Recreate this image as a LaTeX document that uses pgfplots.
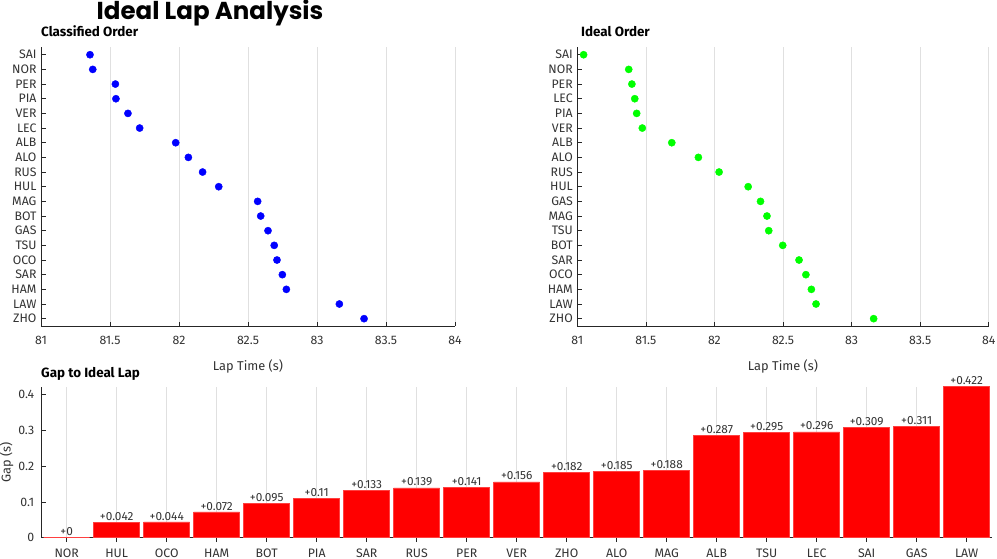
\documentclass[border=0pt]{standalone}
\usepackage{fontspec}
\setmainfont{Fira Sans}
\newfontfamily\titlefont{Poppins}
\usepackage{pgfplots}
\pgfplotsset{compat=1.18}
\usepackage{pgfplotstable}

\definecolor{axgray}{gray}{0.15}
\definecolor{txtgray}{gray}{0.2}
\definecolor{gridgray}{gray}{0.88}

\pgfplotstableread{
i t
1 81.355
2 81.375
3 81.539
4 81.543
5 81.630
6 81.715
7 81.976
8 82.068
9 82.171
10 82.288
11 82.570
12 82.592
13 82.645
14 82.690
15 82.710
16 82.749
17 82.778
18 83.162
19 83.341
}\classtable

\pgfplotstableread{
i t
1 81.046
2 81.375
3 81.398
4 81.419
5 81.433
6 81.474
7 81.689
8 81.883
9 82.034
10 82.246
11 82.336
12 82.383
13 82.396
14 82.498
15 82.617
16 82.667
17 82.707
18 82.741
19 83.161
}\idealtable

\pgfplotstableread{
x y lab
1 0 +0
2 0.042 +0.042
3 0.044 +0.044
4 0.072 +0.072
5 0.095 +0.095
6 0.11 +0.11
7 0.133 +0.133
8 0.139 +0.139
9 0.141 +0.141
10 0.156 +0.156
11 0.182 +0.182
12 0.185 +0.185
13 0.188 +0.188
14 0.287 +0.287
15 0.295 +0.295
16 0.296 +0.296
17 0.309 +0.309
18 0.311 +0.311
19 0.422 +0.422
}\gaptable

\pgfplotsset{
  myaxis/.style={
    scale only axis,
    axis x line*=bottom, axis y line*=left,
    axis line style={axgray, line width=0.6pt, -},
    tick style={axgray, line width=0.6pt},
    tick align=inside,
    major tick length=4.5pt,
    tick label style={font=\fontsize{12.3}{13}\selectfont, text=txtgray},
    label style={font=\fontsize{12.8}{14}\selectfont, text=txtgray},
    /pgf/number format/assume math mode=true,
    xmajorgrids, grid style={gridgray, line width=0.6pt},
  },
  scat/.style={
    myaxis,
    width=414pt, height=278.6pt,
    xmin=81, xmax=84,
    xtick={81,81.5,82,82.5,83,83.5,84},
    xticklabels={81,81.5,82,82.5,83,83.5,84},
    ymin=0.5, ymax=19.5, y dir=reverse,
    ytick={1,...,19},
    xlabel={Lap Time (s)},
    xticklabel style={yshift=-7pt},
    xlabel style={yshift=-8pt},
    yticklabel style={xshift=-1pt},
  },
}

\begin{document}
\begin{tikzpicture}
\useasboundingbox (0pt,0pt) rectangle (997pt,-559pt);

\node[anchor=base, inner sep=0, font=\titlefont\bfseries\fontsize{24.5}{26}\selectfont] at (210pt,-19.5pt) {Ideal Lap Analysis};
\node[anchor=base west, inner sep=0, font=\bfseries\fontsize{13.4}{15}\selectfont] at (41pt,-36.5pt) {Classified Order};
\node[anchor=base west, inner sep=0, font=\bfseries\fontsize{13.4}{15}\selectfont] at (581pt,-36.5pt) {Ideal Order};
\node[anchor=base west, inner sep=0, font=\bfseries\fontsize{13.4}{15}\selectfont] at (41pt,-377pt) {Gap to Ideal Lap};

\begin{axis}[scat, at={(41pt,-47.4pt)}, anchor=north west,
  yticklabels={SAI,NOR,PER,PIA,VER,LEC,ALB,ALO,RUS,HUL,MAG,BOT,GAS,TSU,OCO,SAR,HAM,LAW,ZHO}]
  \addplot[only marks, mark=*, mark size=3.6pt, color=blue] table[x=t, y=i] {\classtable};
\end{axis}

\begin{axis}[scat, at={(577.3pt,-47.4pt)}, anchor=north west, width=411.4pt,
  yticklabels={SAI,NOR,PER,LEC,PIA,VER,ALB,ALO,RUS,HUL,GAS,MAG,TSU,BOT,SAR,OCO,HAM,LAW,ZHO}]
  \addplot[only marks, mark=*, mark size=3.6pt, color=green] table[x=t, y=i] {\idealtable};
\end{axis}

\begin{axis}[myaxis, at={(41.7pt,-537.7pt)}, anchor=south west,
  width=950pt, height=151pt,
  xmin=0.5, xmax=19.5, ymin=0, ymax=0.422,
  xtick={1,...,19},
  xticklabels={NOR,HUL,OCO,HAM,BOT,PIA,SAR,RUS,PER,VER,ZHO,ALO,MAG,ALB,TSU,LEC,SAI,GAS,LAW},
  ytick={0,0.1,0.2,0.3,0.4},
  yticklabels={0,0.1,0.2,0.3,0.4},
  ylabel={Gap (s)},
  ylabel style={yshift=-2pt},
  xticklabel style={yshift=-6pt, inner sep=0.5pt, text depth=0pt},
  yticklabel style={xshift=-4pt},
  ybar, bar width=0.92,
  nodes near coords,
  point meta=explicit symbolic,
  nodes near coords style={font=\fontsize{11.8}{12}\selectfont, text=txtgray, inner sep=1.5pt},
  clip=false,
]
  \addplot[fill=red, draw=red!75!white, line width=0.5pt] table[x=x, y=y, meta=lab] {\gaptable};
\end{axis}
\end{tikzpicture}
\end{document}
